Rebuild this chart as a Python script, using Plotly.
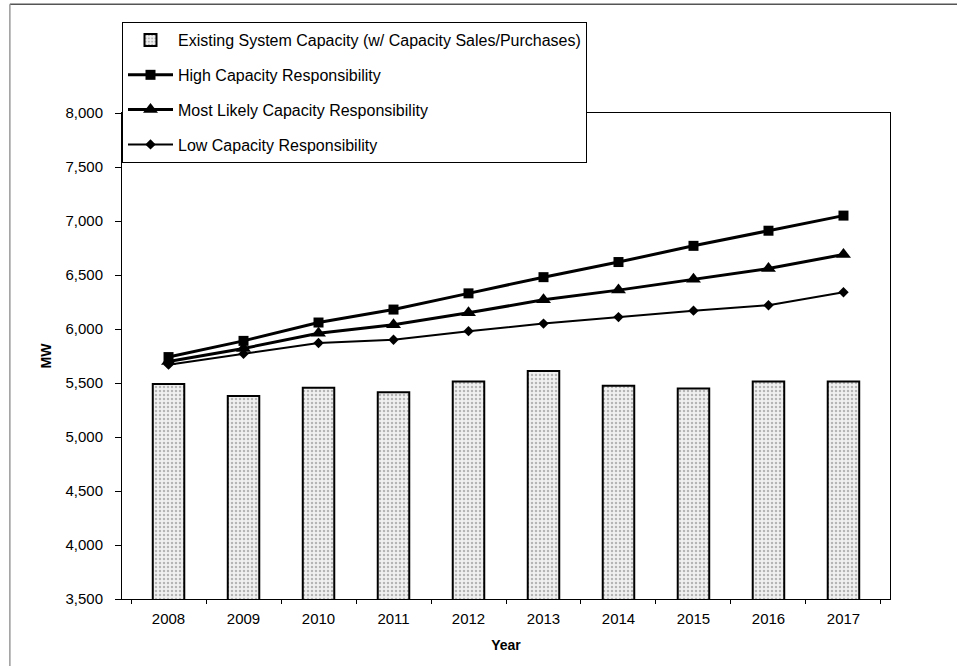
import plotly.graph_objects as go

years = ["2008", "2009", "2010", "2011", "2012", "2013", "2014", "2015", "2016", "2017"]
existing = [5490, 5380, 5455, 5415, 5515, 5610, 5475, 5450, 5515, 5515]
high = [5740, 5890, 6060, 6180, 6330, 6480, 6620, 6770, 6910, 7050]
most_likely = [5700, 5820, 5960, 6040, 6150, 6270, 6360, 6460, 6560, 6690]
low = [5670, 5770, 5870, 5900, 5980, 6050, 6110, 6170, 6220, 6340]

FONT = "Liberation Sans, Arial, Helvetica, sans-serif"

fig = go.Figure()
fig.add_trace(go.Bar(
    x=years, y=existing,
    name="Existing System Capacity (w/ Capacity Sales/Purchases)",
    legendgroup="a",
    marker=dict(color="#f2f2f2", line=dict(color="black", width=2),
                pattern=dict(shape=".", fgcolor="#7a7a7a", bgcolor="#f0f0f0", size=4, solidity=0.3)),
))
fig.add_trace(go.Scatter(
    x=years, y=high, name="High Capacity Responsibility", legendgroup="b",
    mode="lines+markers", line=dict(color="black", width=3),
    marker=dict(symbol="square", size=10, color="black"),
))
fig.add_trace(go.Scatter(
    x=years, y=most_likely, name="Most Likely Capacity Responsibility", legendgroup="c",
    mode="lines+markers", line=dict(color="black", width=3),
    marker=dict(symbol="triangle-up", size=13, color="black"),
))
fig.add_trace(go.Scatter(
    x=years, y=low, name="Low Capacity Responsibility", legendgroup="d",
    mode="lines+markers", line=dict(color="black", width=2),
    marker=dict(symbol="diamond", size=8, color="black"),
))

fig.update_layout(
    width=957, height=666,
    margin=dict(l=122, r=67, t=113, b=67),
    paper_bgcolor="white", plot_bgcolor="white",
    font=dict(family=FONT, size=15, color="black"),
    bargap=0.58,
    showlegend=True,
    legend=dict(
        x=0, y=1.187, xanchor="left", yanchor="top",
        bgcolor="white", bordercolor="black", borderwidth=1,
        font=dict(family=FONT, size=16, color="black"),
        tracegroupgap=11, itemwidth=45,
        traceorder="grouped",
    ),
    xaxis=dict(
        title=dict(text="<b>Year</b>", font=dict(size=14), standoff=14),
        showline=True, linecolor="black", linewidth=1, mirror=True,
        ticks="outside", ticklen=4, tickcolor="black", tickson="boundaries",
        tickfont=dict(size=15), ticklabelstandoff=6,
        showgrid=False,
    ),
    yaxis=dict(
        title=dict(text="<b>MW</b>", font=dict(size=14), standoff=10),
        range=[3500, 8000], dtick=500, tickformat=",",
        showline=True, linecolor="black", linewidth=1, mirror=True,
        ticks="outside", ticklen=6, tickcolor="black",
        tickfont=dict(size=15), ticklabelstandoff=9,
        showgrid=False, zeroline=False,
    ),
    shapes=[
        dict(type="line", xref="paper", yref="paper", x0=-0.146, x1=1.1, y0=1.224, y1=1.224,
             line=dict(color="#555", width=1.5)),
        dict(type="line", xref="paper", yref="paper", x0=-0.146, x1=-0.146, y0=1.224, y1=-0.14,
             line=dict(color="#999", width=1.5)),
    ],
)

fig.write_html("out.html")
